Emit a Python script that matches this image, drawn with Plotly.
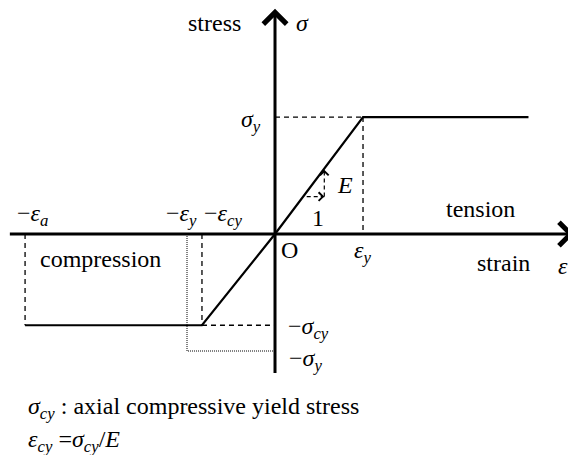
import plotly.graph_objects as go

# strain in units of eps_y, stress in units of sigma_y
EPS_Y = 1.0
EPS_CY = 0.83
EPS_A = 2.84
EPS_END = 2.88
SIG_Y = 1.0
SIG_CY = 0.78

# extent of the drawn axes (arrow tails / tips)
AXIS_X = [-3.03, 3.40]
AXIS_Y = [-1.20, 1.925]

# small slope triangle near the origin
TRI_X = [0.36, 0.56]
TRI_Y = [0.32, 0.55]

FONT = "Liberation Serif"
BLACK = "black"
FS = 24


def seg(fig, x, y, width=2.0, dash="solid"):
    fig.add_trace(
        go.Scatter(
            x=x, y=y, mode="lines", hoverinfo="skip", showlegend=False,
            line=dict(color=BLACK, width=width, dash=dash),
        )
    )


def arrow(fig, x0, y0, x1, y1, width=3, size=1.0):
    # arrow drawn with plotly's chevron head (style 4), head at (x1, y1)
    fig.add_annotation(
        x=x1, y=y1, ax=x0, ay=y0, xref="x", yref="y", axref="x", ayref="y",
        text="", showarrow=True, arrowhead=4, arrowwidth=width,
        arrowsize=size, arrowcolor=BLACK,
    )


def label(fig, x, y, text, size=FS, xanchor="center"):
    fig.add_annotation(
        x=x, y=y, xref="x", yref="y", text=text, showarrow=False,
        xanchor=xanchor, yanchor="middle",
        font=dict(family=FONT, size=size, color=BLACK),
    )


fig = go.Figure()

# guide lines
dashed = "5px,4px"
seg(fig, [0, EPS_Y], [SIG_Y, SIG_Y], 1.3, dashed)
seg(fig, [EPS_Y, EPS_Y], [SIG_Y, 0], 1.3, dashed)
seg(fig, [-EPS_A, -EPS_A], [0, -SIG_CY], 1.3, dashed)
seg(fig, [-EPS_CY, -EPS_CY], [0, -SIG_CY], 1.3, dashed)
seg(fig, [-EPS_CY, 0], [-SIG_CY, -SIG_CY], 1.3, dashed)
seg(fig, [-EPS_Y, -EPS_Y, 0], [0, -SIG_Y, -SIG_Y], 1.0, "1px,1px")

# stress-strain curve
seg(fig, [-EPS_A, -EPS_CY, 0, EPS_Y, EPS_END], [-SIG_CY, -SIG_CY, 0, SIG_Y, SIG_Y], 2.2)

# slope triangle
seg(fig, [TRI_X[0], TRI_X[1]], [TRI_Y[0], TRI_Y[0]], 1.2, "4px,3px")
seg(fig, [TRI_X[1], TRI_X[1]], [TRI_Y[0], TRI_Y[1]], 1.2, "4px,3px")
arrow(fig, TRI_X[1] - 0.05, TRI_Y[0], TRI_X[1], TRI_Y[0], 1.2, 1.4)
arrow(fig, TRI_X[1], TRI_Y[1] - 0.04, TRI_X[1], TRI_Y[1], 1.2, 1.4)

# axes
arrow(fig, AXIS_X[0], 0, AXIS_X[1], 0, 3, 1.5)
arrow(fig, 0, AXIS_Y[0], 0, AXIS_Y[1], 3, 1.5)

# labels
label(fig, -0.69, 1.80, "stress")
label(fig, 0.31, 1.80, "<i>σ</i>")
label(fig, -0.14, 0.97, "<i>σ<sub>y</sub></i>", xanchor="right")
label(fig, 0.80, 0.42, "<i>E</i>")
label(fig, 0.49, 0.14, "1")
label(fig, 2.34, 0.21, "tension")
label(fig, -2.955, 0.16, "−<i>ε<sub>a</sub></i>", xanchor="left")
label(fig, -0.865, 0.16, "−<i>ε<sub>y</sub></i>", xanchor="right")
label(fig, -0.83, 0.16, "−<i>ε<sub>cy</sub></i>", xanchor="left")
label(fig, 0.17, -0.14, "O")
label(fig, 0.99, -0.15, "<i>ε<sub>y</sub></i>")
label(fig, 2.60, -0.25, "strain")
label(fig, 3.27, -0.27, "<i>ε</i>")
label(fig, -1.98, -0.21, "compression")
label(fig, 0.12, -0.80, "−<i>σ<sub>cy</sub></i>", xanchor="left")
label(fig, 0.14, -1.08, "−<i>σ<sub>y</sub></i>", xanchor="left")

# footnote
for ypos, text in [
    (0.105, "<i>σ<sub>cy</sub></i> : axial compressive yield stress"),
    (0.031, "<i>ε<sub>cy</sub></i> =<i>σ<sub>cy</sub></i>/<i>E</i>"),
]:
    fig.add_annotation(
        x=0.032, y=ypos, xref="paper", yref="paper", text=text,
        showarrow=False, xanchor="left", yanchor="middle",
        font=dict(family=FONT, size=FS, color=BLACK),
    )

# the page body adds an 8px offset, so the figure covers page pixels 8..576 / 8..455
fig.update_xaxes(visible=False, range=[-3.034, 3.420], fixedrange=True)
fig.update_yaxes(visible=False, range=[-1.889, 1.932], fixedrange=True)
fig.update_layout(
    width=568, height=447, autosize=False,
    margin=dict(l=0, r=0, t=0, b=0),
    plot_bgcolor="white", paper_bgcolor="white",
    showlegend=False,
)

fig.write_html("out.html")
